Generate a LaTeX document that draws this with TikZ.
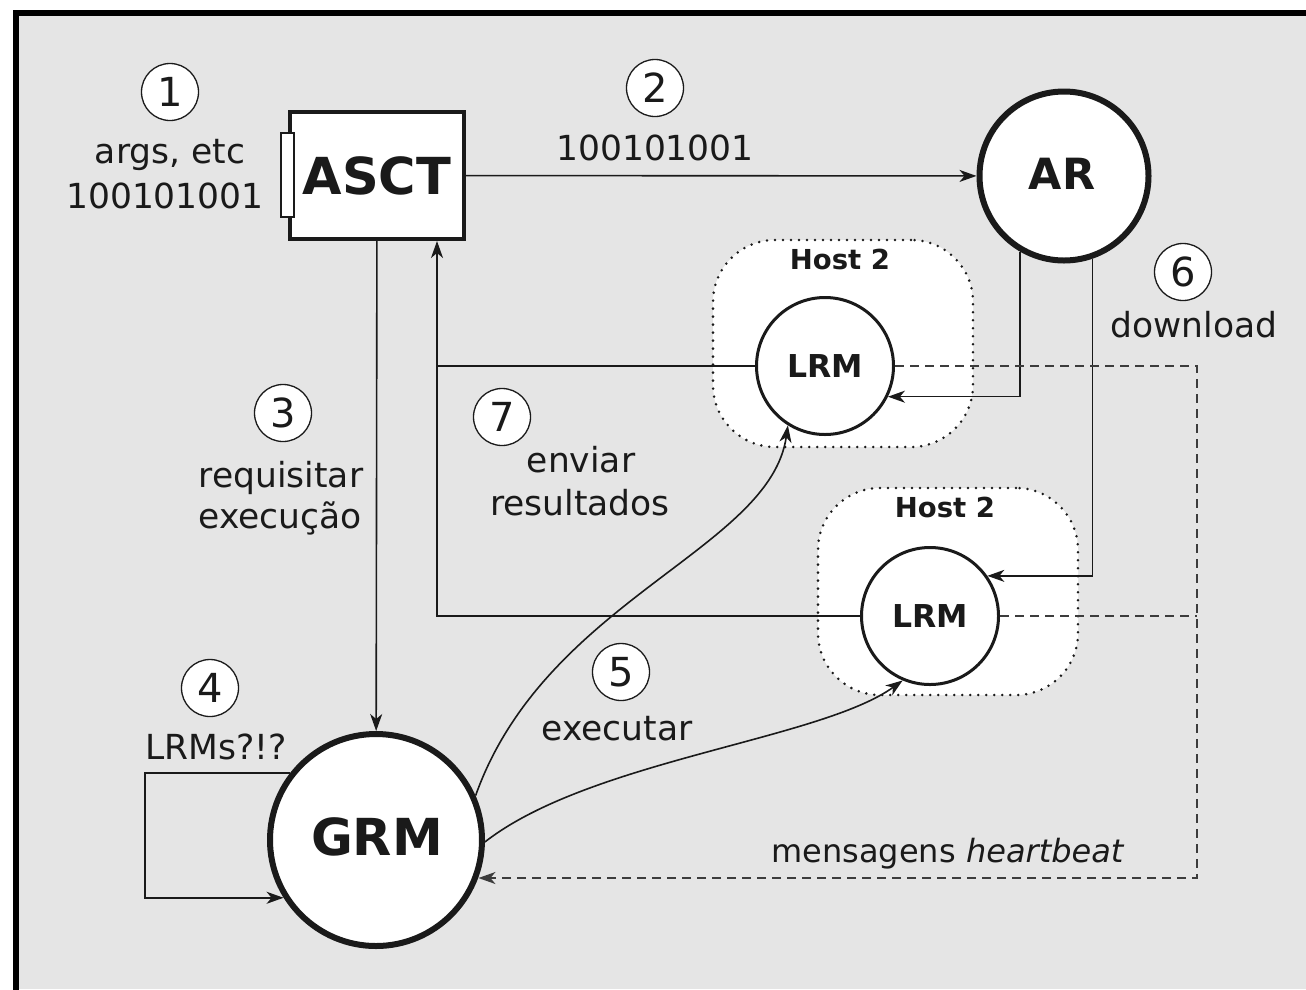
\documentclass[tikz,border=0pt]{standalone}
\usepackage{fontspec}
\setmainfont{DejaVu Sans}
\usetikzlibrary{arrows.meta}
\definecolor{bg}{HTML}{E5E5E5}
\definecolor{ink}{HTML}{1A1A1A}
\begin{document}
\begin{tikzpicture}[x=1pt,y=-1pt,
  every node/.style={inner sep=0pt, text=ink},
  numc/.style={circle,draw=ink,fill=white,line width=1.3pt,minimum size=57pt,font=\fontsize{40}{40}\selectfont},
  lbl/.style={anchor=base,font=\fontsize{34.5}{40}\selectfont},
  conn/.style={draw=ink,line width=1.6pt,-{Stealth[length=17pt,width=12pt,inset=5pt]}},
  plainline/.style={draw=ink,line width=1.6pt},
  hbeat/.style={draw=ink!85,line width=1.8pt,dash pattern=on 9pt off 6pt},
  hostbox/.style={draw=ink,fill=white,line width=2.8pt,line cap=round,dash pattern=on 0pt off 8pt,rounded corners=62pt},
  bigc/.style={circle,draw=ink,fill=white,line width=6pt},
  lrmc/.style={circle,draw=ink,fill=white,line width=3pt,minimum size=137pt,font=\bfseries\fontsize{31.5}{31.5}\selectfont},
  hostlbl/.style={anchor=base,font=\bfseries\fontsize{27.5}{27.5}\selectfont}
]
\useasboundingbox (0,0) rectangle (1306,989);
% frame
\fill[bg] (16,13) rectangle (1306,989);
\draw[line width=5.5pt,black] (16,995) -- (16,13) -- (1312,13);

% host boxes
\node[hostbox,minimum width=260pt,minimum height=207pt] (host1) at (843,343.5) {};
\node[hostbox,minimum width=260pt,minimum height=207pt] (host2) at (948,591.5) {};
\node[hostlbl] (host1t) at (840,269) {Host 2};
\node[hostlbl] (host2t) at (945,517) {Host 2};

% main nodes
\node[draw=ink,fill=white,line width=4pt,minimum width=174pt,minimum height=127pt,
      font=\bfseries\fontsize{51}{51}\selectfont] (asct) at (377,175.5) {ASCT};
\node[draw=ink,fill=white,line width=1.8pt,minimum width=13pt,minimum height=84pt] (port) at (287.5,175) {};
\node[bigc,minimum size=169pt] (ar) at (1064,176) {};
\node[font=\bfseries\fontsize{43}{43}\selectfont] (art) at (1062,173.5) {AR};
\node[bigc,minimum size=212pt] (grm) at (376,840) {};
\node[font=\bfseries\fontsize{51}{51}\selectfont] (grmt) at (377,836.5) {GRM};
\node[lrmc] (lrm1) at (825,366) {LRM};
\node[lrmc] (lrm2) at (930,616) {LRM};

% step numbers
\node[numc] (n1) at (170,92) {1};
\node[numc] (n2) at (655,88) {2};
\node[numc] (n3) at (283,413) {3};
\node[numc] (n4) at (210,688) {4};
\node[numc] (n5) at (621,672) {5};
\node[numc] (n6) at (1183,272) {6};
\node[numc] (n7) at (502,417) {7};

% labels
\node[lbl] (targs) at (170,163) {args, etc};
\node[lbl] (tbits1) at (165,208) {100101001};
\node[lbl] (tbits2) at (655,160) {100101001};
\node[lbl] (treq) at (281,487) {requisitar};
\node[lbl] (texe) at (280,528) {execução};
\node[lbl] (tenv) at (581,472) {enviar};
\node[lbl] (tres) at (580,515) {resultados};
\node[lbl] (texec) at (617,740) {executar};
\node[lbl] (tlrms) at (216,759) {LRMs?!?};
\node[lbl] (tdown) at (1194,337) {download};
\node[lbl,font=\fontsize{32}{36}\selectfont] (thb) at (948,862) {mensagens \textit{heartbeat}};

% connectors
\coordinate (ret) at (437,241);
\coordinate (hb) at (1197,878);
\coordinate (loopx) at (145,0);

\draw[conn] (asct) -- (ar);
\draw[conn] (asct) -- (grm);
\draw[conn] (lrm2.west) -| (ret);
\draw[plainline] (lrm1.west) -- (lrm1.west -| ret);
\draw[conn] (ar.240.8) |- (lrm1.-26);
\draw[conn] (ar.-71.4) |- (lrm2.35.3);
\draw[hbeat,-{Stealth[length=17pt,width=12pt,inset=5pt]}] (lrm1.east) -| (hb) -- (hb -| grm.-20);
\draw[hbeat] (lrm2.east) -- (lrm2.east -| hb);
\draw[conn] (grm.142.7) -- (grm.142.7 -| loopx) |- (grm.212.8);
\draw[conn] (grm.24.7) .. controls (545,600) and (770,550) .. (lrm1.238);
\draw[conn] (grm.-1) .. controls (590,760) and (820,740) .. (lrm2.247);
\end{tikzpicture}
\end{document}
